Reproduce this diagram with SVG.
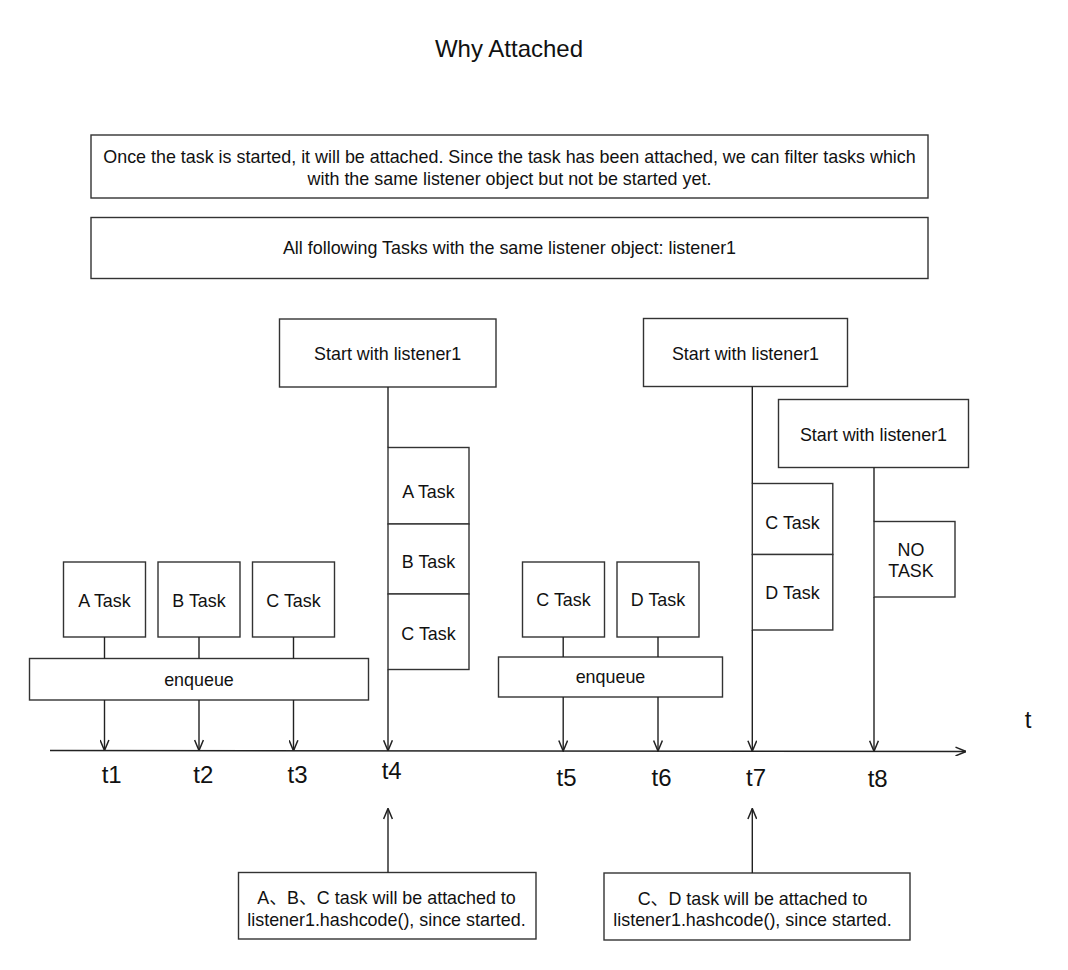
<svg xmlns="http://www.w3.org/2000/svg" width="1068" height="970" viewBox="0 0 1068 970">
  <defs>
    <marker id="arr" viewBox="0 0 12 10" refX="11.5" refY="5" markerWidth="12" markerHeight="10" markerUnits="userSpaceOnUse" orient="auto">
      <path d="M1,0.6 L11.5,5 L1,9.4" fill="none" stroke="#222" stroke-width="1.5"/>
    </marker>
  </defs>
  <style>
    .box { fill: #ffffff; stroke: #333333; stroke-width: 1.4; }
    .lbl { font-family: "Liberation Sans", Arial, "Noto Sans CJK SC", sans-serif; font-size: 17.9px; fill: #111111; text-anchor: middle; }
    .big { font-family: "Liberation Sans", Arial, sans-serif; font-size: 24px; fill: #111111; text-anchor: middle; }
    .ln { fill: none; stroke: #222222; stroke-width: 1.4; }
    .arw { fill: none; stroke: #222222; stroke-width: 1.4; marker-end: url(#arr); }
  </style>
  <rect width="1068" height="970" fill="#ffffff"/>

  <text id="title" class="big" x="509" y="57">Why Attached</text>

  <g id="note1">
    <rect class="box" x="91" y="135" width="837" height="63"/>
    <text class="lbl" x="509.5" y="162.5">Once the task is started, it will be attached. Since the task has been attached, we can filter tasks which</text>
    <text class="lbl" x="509.5" y="184.5">with the same listener object but not be started yet.</text>
  </g>
  <g id="note2">
    <rect class="box" x="91" y="217.5" width="837" height="61"/>
    <text class="lbl" x="509.5" y="254">All following Tasks with the same listener object: listener1</text>
  </g>

  <g id="start1">
    <rect class="box" x="279.5" y="319" width="216.5" height="68"/>
    <text class="lbl" x="387.7" y="360">Start with listener1</text>
  </g>
  <g id="start2">
    <rect class="box" x="643.5" y="318.5" width="204" height="68"/>
    <text class="lbl" x="745.5" y="360">Start with listener1</text>
  </g>
  <g id="start3">
    <rect class="box" x="778.5" y="399.5" width="190" height="68"/>
    <text class="lbl" x="873.5" y="441">Start with listener1</text>
  </g>

  <g id="stack1">
    <rect class="box" x="388" y="447.5" width="81" height="76.5"/>
    <rect class="box" x="388" y="524" width="81" height="70"/>
    <rect class="box" x="388" y="594" width="81" height="75.5"/>
    <text class="lbl" x="428.5" y="498">A Task</text>
    <text class="lbl" x="428.5" y="568">B Task</text>
    <text class="lbl" x="428.5" y="640">C Task</text>
  </g>
  <g id="stack2">
    <rect class="box" x="752.3" y="483.5" width="80.5" height="71"/>
    <rect class="box" x="752.3" y="554.5" width="80.5" height="75.5"/>
    <text class="lbl" x="792.5" y="528.5">C Task</text>
    <text class="lbl" x="792.5" y="598.5">D Task</text>
  </g>
  <g id="notask">
    <rect class="box" x="874" y="521.5" width="81" height="75.5"/>
    <text class="lbl" x="911" y="555.5">NO</text>
    <text class="lbl" x="911" y="577">TASK</text>
  </g>

  <g id="taskA1">
    <rect class="box" x="63.5" y="562" width="82" height="75"/>
    <text class="lbl" x="104.5" y="606.5">A Task</text>
  </g>
  <g id="taskB1">
    <rect class="box" x="158" y="562" width="82" height="75"/>
    <text class="lbl" x="199" y="606.5">B Task</text>
  </g>
  <g id="taskC1">
    <rect class="box" x="252.5" y="562" width="82" height="75"/>
    <text class="lbl" x="293.5" y="606.5">C Task</text>
  </g>
  <g id="enqueue1">
    <rect class="box" x="29.5" y="658.5" width="339" height="41.5"/>
    <text class="lbl" x="199" y="686">enqueue</text>
  </g>

  <g id="taskC2">
    <rect class="box" x="522.5" y="562" width="82" height="75"/>
    <text class="lbl" x="563.5" y="606">C Task</text>
  </g>
  <g id="taskD2">
    <rect class="box" x="617" y="562" width="82" height="75"/>
    <text class="lbl" x="658" y="606">D Task</text>
  </g>
  <g id="enqueue2">
    <rect class="box" x="498.5" y="657" width="224" height="40"/>
    <text class="lbl" x="610.5" y="683">enqueue</text>
  </g>

  <g id="note3">
    <rect class="box" x="238.5" y="872.5" width="297.5" height="66.5"/>
    <text class="lbl" x="386.5" y="904">A、B、C task will be attached to</text>
    <text class="lbl" x="386.5" y="925.5">listener1.hashcode(), since started.</text>
  </g>
  <g id="note4">
    <rect class="box" x="604" y="873" width="306" height="67"/>
    <text class="lbl" x="752.5" y="905">C、D task will be attached to</text>
    <text class="lbl" x="752.5" y="925.5">listener1.hashcode(), since started.</text>
  </g>

  <g id="labels">
    <text class="big" x="111.7" y="783">t1</text>
    <text class="big" x="203.3" y="783">t2</text>
    <text class="big" x="297.5" y="783">t3</text>
    <text class="big" x="391.7" y="778.5">t4</text>
    <text class="big" x="566.5" y="786">t5</text>
    <text class="big" x="661.5" y="786">t6</text>
    <text class="big" x="756" y="786">t7</text>
    <text class="big" x="877.7" y="786.5">t8</text>
    <text class="big" x="1028" y="728">t</text>
  </g>

  <g id="connectors">
    <path class="arw" d="M50,750.5 L966,751.5"/>
    <path class="ln" d="M104.5,637 V658.5"/>
    <path class="ln" d="M199,637 V658.5"/>
    <path class="ln" d="M293.5,637 V658.5"/>
    <path class="arw" d="M104.5,700 V750.5"/>
    <path class="arw" d="M199,700 V750.5"/>
    <path class="arw" d="M293.5,700 V750.8"/>
    <path class="ln" d="M388,387 V447.5"/>
    <path class="arw" d="M388,669.5 V750.8"/>
    <path class="ln" d="M563.2,637 V657"/>
    <path class="ln" d="M658,637 V657"/>
    <path class="arw" d="M563.2,697 V751"/>
    <path class="arw" d="M658,697 V751"/>
    <path class="ln" d="M752.3,386.5 V483.5"/>
    <path class="arw" d="M752.3,630 V751.2"/>
    <path class="ln" d="M874,467.5 V521.5"/>
    <path class="arw" d="M874,597 V751.3"/>
    <path class="arw" d="M388,872.5 V808.5"/>
    <path class="arw" d="M752.3,873 V808.5"/>
  </g>
</svg>
